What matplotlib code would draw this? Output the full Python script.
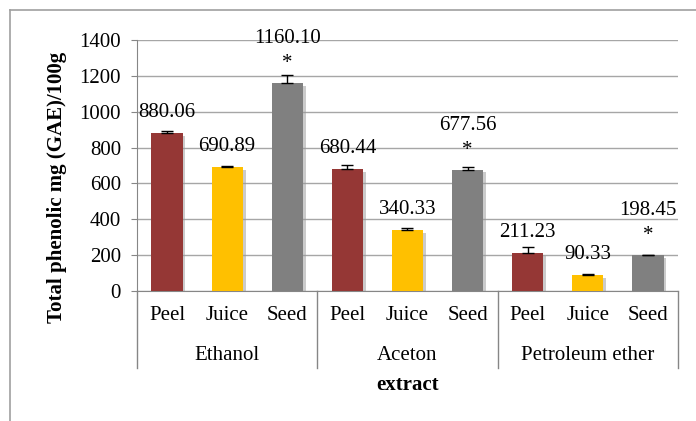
import matplotlib
matplotlib.use("Agg")
import matplotlib.pyplot as plt
import matplotlib.patheffects as pe
from matplotlib.lines import Line2D
import numpy as np

plt.rcParams['font.family'] = ['Liberation Serif', 'DejaVu Serif']

groups = ["Ethanol", "Aceton", "Petroleum ether"]
parts = ["Peel", "Juice", "Seed"]
values = [880.06, 690.89, 1160.10, 680.44, 340.33, 677.56, 211.23, 90.33, 198.45]
errors = [10, 5, 45, 25, 12, 12, 35, 3, 3]
labels = ["880.06", "690.89", "1160.10", "680.44", "340.33", "677.56",
          "211.23", "90.33", "198.45"]
starred = [False, False, True, False, False, True, False, False, True]
colors = ["#953735", "#FFC000", "#808080"]
yticks = [0, 200, 400, 600, 800, 1000, 1200, 1400]

FS = 15
W, H = 696, 421
fig = plt.figure(figsize=(W / 100, H / 100), dpi=100)
L, R, T, B = 137, 678, 40, 291
ax = fig.add_axes([L / W, 1 - B / H, (R - L) / W, (B - T) / H])

n = len(values)
x = np.arange(n)
bar_colors = [colors[i % 3] for i in range(n)]
ax.bar(x, values, width=0.52, color=bar_colors, zorder=3,
       path_effects=[pe.SimplePatchShadow(offset=(2, -2), shadow_rgbFace='#999999', alpha=0.5), pe.Normal()])
ax.errorbar(x, values, yerr=[np.zeros(n), errors], fmt='none', ecolor='black',
            elinewidth=1, capsize=4, capthick=1, zorder=4)

for xi, v, lab, st in zip(x, values, labels, starred):
    if st:
        ax.annotate("*", (xi, v), xytext=(0, 15), textcoords='offset pixels',
                    ha='center', va='baseline', fontsize=FS, zorder=5)
        ax.annotate(lab, (xi, v), xytext=(0, 40), textcoords='offset pixels',
                    ha='center', va='baseline', fontsize=FS, zorder=5)
    else:
        ax.annotate(lab, (xi, v), xytext=(0, 16), textcoords='offset pixels',
                    ha='center', va='baseline', fontsize=FS, zorder=5)

ax.set_xlim(-0.5, n - 0.5)
ax.set_ylim(0, 1400)
ax.set_yticks(yticks)
ax.set_yticklabels([str(t) for t in yticks], fontsize=FS)
ax.yaxis.grid(True, color='#A6A6A6', linewidth=1)
ax.set_axisbelow(True)
for s in ['top', 'right']:
    ax.spines[s].set_visible(False)
ax.spines['left'].set_color('#868686')
ax.spines['bottom'].set_color('#868686')
ax.tick_params(axis='y', length=4.5, color='#868686', pad=7)
ax.set_xticks([])

# multi-level category axis
ph = B - T
for xi in x:
    ax.text(xi, -25 / ph, parts[xi % 3], transform=ax.get_xaxis_transform(),
            ha='center', va='center', fontsize=FS)
for gi, g in enumerate(groups):
    ax.text(gi * 3 + 1, -64 / ph, g, transform=ax.get_xaxis_transform(),
            ha='center', va='center', fontsize=FS)
for d in [-0.5, 2.5, 5.5, 8.5]:
    ax.plot([d, d], [0, -77 / ph], transform=ax.get_xaxis_transform(),
            color='#868686', linewidth=1, clip_on=False)

fig.text((L + R) / 2 / W, 1 - 385 / H, "extract", ha='center', va='center',
         fontsize=FS, fontweight='bold')
fig.text(57 / W, 1 - 187 / H, "Total phenolic mg (GAE)/100g", rotation=90,
         ha='center', va='center', fontsize=FS, fontweight='bold')

# chart border
fig.add_artist(Line2D([10 / W, 1], [1 - 10 / H, 1 - 10 / H], transform=fig.transFigure,
                      color='#A0A0A0', linewidth=1.2))
fig.add_artist(Line2D([10 / W, 10 / W], [1 - 10 / H, 0], transform=fig.transFigure,
                      color='#A0A0A0', linewidth=1.2))

fig.savefig("out.png", dpi=100)
